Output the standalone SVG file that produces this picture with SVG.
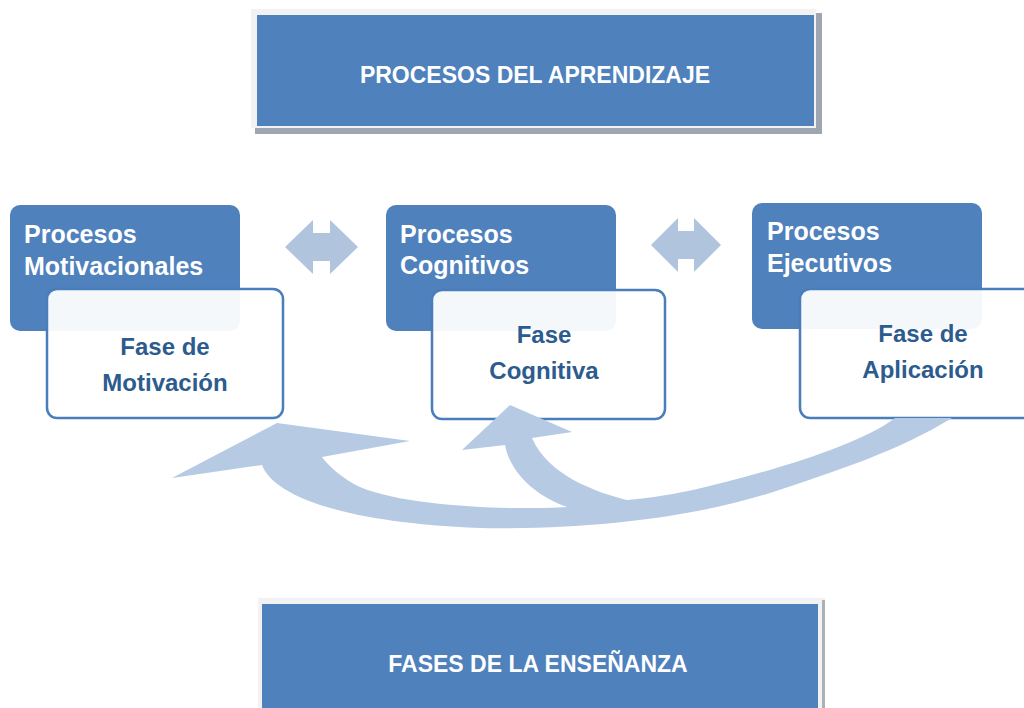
<svg xmlns="http://www.w3.org/2000/svg" width="1024" height="708" viewBox="0 0 1024 708">
<style>
.title{font-family:"Liberation Sans",Arial,sans-serif;font-weight:bold;font-size:23px;fill:#ffffff;text-anchor:middle}
.proc{font-family:"Liberation Sans",Arial,sans-serif;font-weight:bold;font-size:25px;fill:#ffffff}
.fase{font-family:"Liberation Sans",Arial,sans-serif;font-weight:bold;font-size:24px;fill:#2c5b8e;text-anchor:middle}
.blue{fill:#4f81bd}
.white{fill:#ffffff;fill-opacity:0.94;stroke:#4a7ebb;stroke-width:2.5}
.conn{fill:#b6cae4}
.dbl{fill:#b1c4de}
</style>
<rect width="1024" height="708" fill="#ffffff"/>
<g id="top-box">
<rect x="255" y="13" width="567" height="121" fill="#9ea6b0"/>
<rect x="251" y="9" width="565" height="119" fill="#f2f2f2"/>
<rect x="257" y="15" width="557" height="111" class="blue"/>
<text x="535" y="83" class="title">PROCESOS DEL APRENDIZAJE</text>
</g>
<g id="bottom-box">
<rect x="258" y="598" width="567" height="112" fill="#f2f2f2"/>
<rect x="822" y="600" width="3" height="108" fill="#a9b0b8"/>
<rect x="262" y="604" width="556" height="106" class="blue"/>
<text x="538" y="672" class="title">FASES DE LA ENSEÑANZA</text>
</g>
<g id="node-motivacion">
<rect x="10" y="205" width="230" height="126" rx="10" class="blue"/>
<text x="24" y="243" class="proc">Procesos</text>
<text x="24" y="275" class="proc">Motivacionales</text>
<rect x="47" y="289" width="236" height="129" rx="10" class="white"/>
<text x="165" y="355" class="fase">Fase de</text>
<text x="165" y="391" class="fase">Motivación</text>
</g>
<g id="node-cognitiva">
<rect x="386" y="205" width="230" height="126" rx="10" class="blue"/>
<text x="400" y="243" class="proc">Procesos</text>
<text x="400" y="274" class="proc">Cognitivos</text>
<rect x="432" y="290" width="233" height="129" rx="10" class="white"/>
<text x="544" y="343" class="fase">Fase</text>
<text x="544" y="379" class="fase">Cognitiva</text>
</g>
<g id="node-aplicacion">
<rect x="752" y="203" width="230" height="126" rx="10" class="blue"/>
<text x="767" y="240" class="proc">Procesos</text>
<text x="767" y="272" class="proc">Ejecutivos</text>
<rect x="800" y="289" width="240" height="129" rx="10" class="white"/>
<text x="923" y="342" class="fase">Fase de</text>
<text x="923" y="378" class="fase">Aplicación</text>
</g>
<g id="connectors">
<polygon class="dbl" points="285,247 313,220 313,233 330,233 330,220 358,247 330,274 330,261 313,261 313,274"/>
<polygon class="dbl" points="651,245 678,218 678,231 694,231 694,218 721,245 694,272 694,259 678,259 678,272"/>
<path class="conn" d="M 895 418 C 860 445 770 472 693 490 C 665 496 640 499 627 500 C 595 492 548 475 532 438 L 572 432 L 510 405 L 462 450 L 505 445 C 510 472 535 496 567 507 C 520 510 410 508 360 487 C 345 480 330 468 322 457 L 410 441 L 277 423 L 172 478 L 262 465 C 272 492 330 522 480 528 C 600 530 700 515 770 493 C 840 470 900 450 952 418 Z"/>
</g>
</svg>
